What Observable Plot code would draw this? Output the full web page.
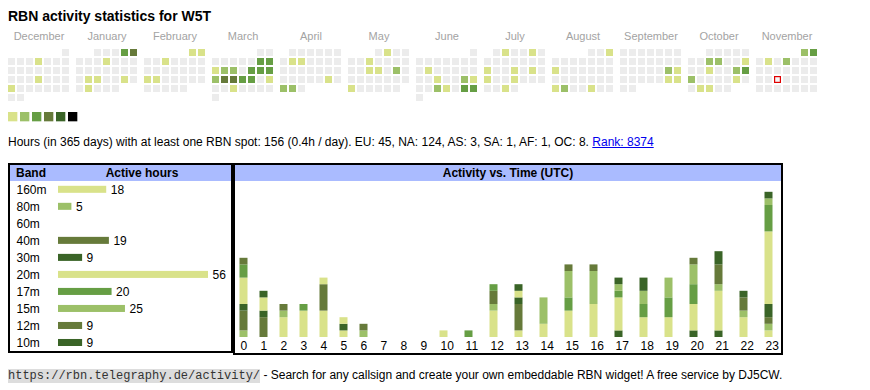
<!DOCTYPE html>
<html>
<head>
<meta charset="utf-8">
<script src="https://cdn.jsdelivr.net/npm/d3@7"></script>
<script src="https://cdn.jsdelivr.net/npm/@observablehq/plot@0.6"></script>
<style>
  body { margin: 0; background: #fff; }
  #page { position: relative; width: 870px; height: 390px; overflow: hidden;
          font-family: "Liberation Sans", Arial, sans-serif; color: #000; }
  .abs { position: absolute; }
  .abs svg { display: block; }
  #title { left: 8px; top: 8px; font-size: 14px; line-height: 16px; font-weight: bold; white-space: nowrap; }
  #stats { left: 8px; top: 135px; font-size: 12px; line-height: 14px; white-space: nowrap; }
  #stats a { color: #0000ee; text-decoration: underline; }
  .box { position: absolute; border: 2px solid #000; box-sizing: border-box; background: #fff; }
  .hdr { position: absolute; left: 0; right: 0; top: 0; height: 16px; background: #aabbff;
         font-size: 12px; line-height: 16px; font-weight: bold; }
  #footer { left: 8px; top: 368px; font-size: 12px; line-height: 14px; white-space: nowrap; }
  #footer .url { font-family: "Liberation Mono", "Courier New", monospace; background: #dddddd; color: #333; }
</style>
</head>
<body>
<div id="page"></div>
<script>
// ---------------- data ----------------
const callsign = "W5T";
const monthNames = ["December","January","February","March","April","May","June","July","August","September","October","November"];
const firstDay = "2024-12-01";
const lastDay = "2025-11-30";
const today = "2025-11-19";
const activeDays = [
  "2024-12-05","2024-12-19","2024-12-23",
  "2025-01-04","2025-01-05","2025-01-09","2025-01-21","2025-01-22","2025-01-25","2025-01-28",
  "2025-02-01","2025-02-02","2025-02-05","2025-02-17","2025-02-18",
  "2025-03-08","2025-03-09","2025-03-10","2025-03-11","2025-03-12","2025-03-14","2025-03-15","2025-03-16",
  "2025-03-17","2025-03-18","2025-03-19","2025-03-20","2025-03-21","2025-03-23","2025-03-26",
  "2025-04-08","2025-04-09","2025-04-26","2025-04-28","2025-04-29",
  "2025-05-02","2025-05-07","2025-05-14","2025-05-15","2025-05-17","2025-05-26",
  "2025-06-10","2025-06-18","2025-06-21","2025-06-22","2025-06-25","2025-06-26","2025-06-28","2025-06-29",
  "2025-07-02","2025-07-05","2025-07-14","2025-07-17","2025-07-19","2025-07-21","2025-07-24","2025-07-30",
  "2025-08-03","2025-08-11","2025-08-25","2025-08-26","2025-08-29",
  "2025-09-20","2025-09-21","2025-09-27","2025-09-28",
  "2025-10-08","2025-10-09","2025-10-12","2025-10-15","2025-10-18","2025-10-19","2025-10-20","2025-10-25","2025-10-28","2025-10-29",
  "2025-11-01","2025-11-02","2025-11-04","2025-11-06"
];
const activeLevels = [
  1,1,1,
  3,4,1,1,1,1,1,
  1,1,1,1,1,
  3,3,1,2,2,3,3,3,
  2,4,4,3,3,1,1,
  1,1,1,2,2,
  1,1,1,1,2,1,
  1,1,2,1,2,1,3,3,
  1,1,1,1,1,1,1,1,
  1,1,1,2,1,
  2,1,1,1,
  2,2,1,1,2,3,2,1,1,1,
  2,3,1,2
];
const levelColors = ["#ececec","#d9e28a","#9cc068","#669e44","#667a3a","#3a6427","#000000"];
const legendLevels = [1,2,3,4,5,6];

const totalDays = 365;
const totalHours = 156;
const hoursPerDay = "0.4";
const continents = ["EU","NA","AS","SA","AF","OC"];
const continentHours = [45,124,3,1,1,8];
const rank = 8374;

const bands = ["160m","80m","60m","40m","30m","20m","17m","15m","12m","10m"];
const bandHours = [18,5,0,19,9,56,20,25,9,9];
const bandColors = ["#d9e28a","#9cc068","#669e44","#667a3a","#3a6427","#d9e28a","#669e44","#9cc068","#667a3a","#3a6427"];
const utcHours = d3.range(24);
// active hours per UTC hour, per band (0..23)
const hours160m = [0,0,3,4,4,1,0,0,0,0,0,0,4,1,0,0,0,0,0,0,0,0,0,1];
const hours80m  = [1,0,1,0,0,0,1,0,0,0,0,0,1,0,0,0,0,0,0,0,0,0,0,1];
const hours60m  = [0,0,0,0,0,0,0,0,0,0,0,0,0,0,0,0,0,0,0,0,0,0,0,0];
const hours40m  = [3,3,1,0,4,0,1,0,0,0,0,0,2,4,0,0,0,0,0,0,0,0,0,1];
const hours30m  = [1,1,0,0,0,1,0,0,0,0,0,0,0,1,0,0,0,1,0,0,1,1,0,2];
const hours20m  = [4,2,0,0,1,1,0,0,0,0,1,0,0,1,2,4,5,5,3,3,4,6,3,11];
const hours17m  = [2,0,0,1,0,0,0,0,0,0,0,1,1,0,0,2,0,1,2,3,3,0,0,4];
const hours15m  = [0,0,0,0,0,0,0,0,0,0,0,0,0,0,4,4,5,1,2,3,3,1,1,1];
const hours12m  = [1,0,0,0,0,0,0,0,0,0,0,0,0,0,0,1,1,0,0,0,1,3,2,0];
const hours10m  = [0,1,0,0,0,0,0,0,0,0,0,0,0,1,0,0,0,1,2,0,0,2,1,1];
const bandSeries = [hours160m,hours80m,hours60m,hours40m,hours30m,hours20m,hours17m,hours15m,hours12m,hours10m];

// ---------------- helpers ----------------
const page = document.getElementById("page");
function place(el, left, top) {
  const d = document.createElement("div");
  d.className = "abs";
  d.style.left = left + "px"; d.style.top = top + "px";
  d.appendChild(el);
  page.appendChild(d);
  return d;
}
const baseStyle = {fontFamily: '"Liberation Sans", Arial, sans-serif', fontSize: "12px", background: "transparent", overflow: "visible"};

// title
const title = document.createElement("div");
title.id = "title"; title.className = "abs";
title.textContent = "RBN activity statistics for " + callsign;
page.appendChild(title);

// ---------------- calendar ----------------
const fmt = d3.utcFormat("%Y-%m-%d");
const start = d3.utcParse("%Y-%m-%d")(firstDay);
const stop = d3.utcDay.offset(d3.utcParse("%Y-%m-%d")(lastDay), 1);
const days = d3.utcDay.range(start, stop).map(d => {
  const m = (d.getUTCFullYear() - start.getUTCFullYear()) * 12 + d.getUTCMonth() - start.getUTCMonth();
  const first = new Date(Date.UTC(d.getUTCFullYear(), d.getUTCMonth(), 1));
  const fwd = (first.getUTCDay() + 6) % 7;
  const wd = (d.getUTCDay() + 6) % 7;
  const row = Math.floor((d.getUTCDate() - 1 + fwd) / 7);
  const key = fmt(d);
  const i = activeDays.indexOf(key);
  return {m, wd, row, key, level: i >= 0 ? activeLevels[i] : 0};
});

const cal = Plot.plot({
  width: 870, height: 101,
  marginLeft: 8, marginRight: 53, marginTop: 49, marginBottom: 0,
  style: baseStyle,
  fx: {domain: d3.range(12), paddingInner: 7 / 68, paddingOuter: 0, round: false, label: null},
  x: {domain: d3.range(7), paddingInner: 2 / 9, paddingOuter: 0, round: false, axis: null},
  y: {domain: d3.range(6), paddingInner: 2 / 9, paddingOuter: 0, round: false, axis: null},
  color: {type: "ordinal", domain: d3.range(7), range: levelColors},
  marks: [
    Plot.axisFx({anchor: "top", tickSize: 0, tickPadding: 10, fontSize: 11, color: "#a3a3a3",
                 label: null, tickFormat: i => monthNames[i]}),
    Plot.cell(days, {fx: "m", x: "wd", y: "row", fill: "level", inset: 0}),
    Plot.cell(days.filter(d => d.key === today), {fx: "m", x: "wd", y: "row", fill: "#f6f6f6",
      stroke: "#e00000", strokeWidth: 1.2, inset: 0.6})
  ]
});
place(cal, 0, 0);

// legend of levels
const legend = Plot.plot({
  width: 80, height: 9.33,
  marginLeft: 8, marginRight: 2.67, marginTop: 0, marginBottom: 0,
  style: baseStyle,
  x: {domain: legendLevels, paddingInner: 2 / 9, paddingOuter: 0, round: false, axis: null},
  color: {type: "ordinal", domain: d3.range(7), range: levelColors},
  marks: [Plot.cell(legendLevels, {x: d => d, fill: d => d, inset: 0})]
});
place(legend, 0, 112);

// stats line
const stats = document.createElement("div");
stats.id = "stats"; stats.className = "abs";
stats.innerHTML = `Hours (in ${totalDays} days) with at least one RBN spot: ${totalHours} (${hoursPerDay}h / day). ` +
  continents.map((c, i) => `${c}: ${continentHours[i]}`).join(", ") + `. <a href="#">Rank: ${rank}</a>`;
page.appendChild(stats);

// ---------------- boxes ----------------
const leftBox = document.createElement("div");
leftBox.className = "box";
Object.assign(leftBox.style, {left: "8px", top: "163px", width: "225px", height: "190px"});
leftBox.innerHTML = `<div class="hdr"><span style="position:absolute;left:6px">Band</span>` +
  `<span style="position:absolute;left:45px;width:174px;text-align:center">Active hours</span></div>`;
page.appendChild(leftBox);

const rightBox = document.createElement("div");
rightBox.className = "box";
Object.assign(rightBox.style, {left: "233px", top: "163px", width: "550px", height: "192px"});
rightBox.innerHTML = `<div class="hdr" style="text-align:center">Activity vs. Time (UTC)</div>`;
page.appendChild(rightBox);

// ---------------- band table ----------------
const tableData = bands.map((b, i) => ({band: b, hours: bandHours[i]}));
const table = Plot.plot({
  width: 231, height: 171,
  marginLeft: 58, marginRight: 23, marginTop: 0.8, marginBottom: 0,
  style: baseStyle,
  x: {domain: [0, 56], axis: null},
  y: {domain: bands, padding: 0, round: false, axis: null},
  color: {domain: bands, range: bandColors},
  marks: [
    Plot.barX(tableData, {x: "hours", y: "band", fill: "band", insetTop: 5, insetBottom: 5}),
    Plot.text(tableData, {y: "band", text: "band", frameAnchor: "left", textAnchor: "start", dx: -42, fill: "#000"}),
    Plot.text(tableData.filter(d => d.hours > 0), {x: "hours", y: "band", text: d => String(d.hours),
      textAnchor: "start", dx: 4, fill: "#000"})
  ]
});
place(table, 0, 180);

// ---------------- hourly stacked bars ----------------
// table-like layout: each hour column is as wide as its label needs (digits + 3 units)
const colUnits = utcHours.map(h => String(h).length + 3);
const colStart = utcHours.map((h, i) => d3.sum(colUnits.slice(0, i)));
const totalUnits = d3.sum(colUnits);
const barUnits = 1.6;
const hourData = bands.flatMap((b, bi) => utcHours.map(h => ({hour: h, band: b, value: bandSeries[bi][h]})))
  .filter(d => d.value > 0);
const hourly = Plot.plot({
  width: 550, height: 172,
  marginLeft: 6.5, marginRight: 0, marginTop: 10.8, marginBottom: 16,
  style: baseStyle,
  x: {domain: [0, totalUnits], range: [6.5, 6.5 + 5 * totalUnits], axis: null},
  y: {domain: [0, 22], axis: null},
  color: {domain: bands, range: bandColors},
  marks: [
    Plot.rectY(hourData, {x1: d => colStart[d.hour], x2: d => colStart[d.hour] + barUnits, y: "value", fill: "band"}),
    Plot.text(utcHours, {x: h => colStart[h], text: h => String(h), frameAnchor: "bottom",
      lineAnchor: "top", textAnchor: "start", dx: 0.6, dy: 3.8, fontSize: 12, fill: "#000"})
  ]
});
place(hourly, 233, 181);

// ---------------- footer ----------------
const footer = document.createElement("div");
footer.id = "footer"; footer.className = "abs";
footer.innerHTML = `<span class="url">https://rbn.telegraphy.de/activity/</span> - Search for any callsign and create your own embeddable RBN widget! A free service by DJ5CW.`;
page.appendChild(footer);
</script>
</body>
</html>
